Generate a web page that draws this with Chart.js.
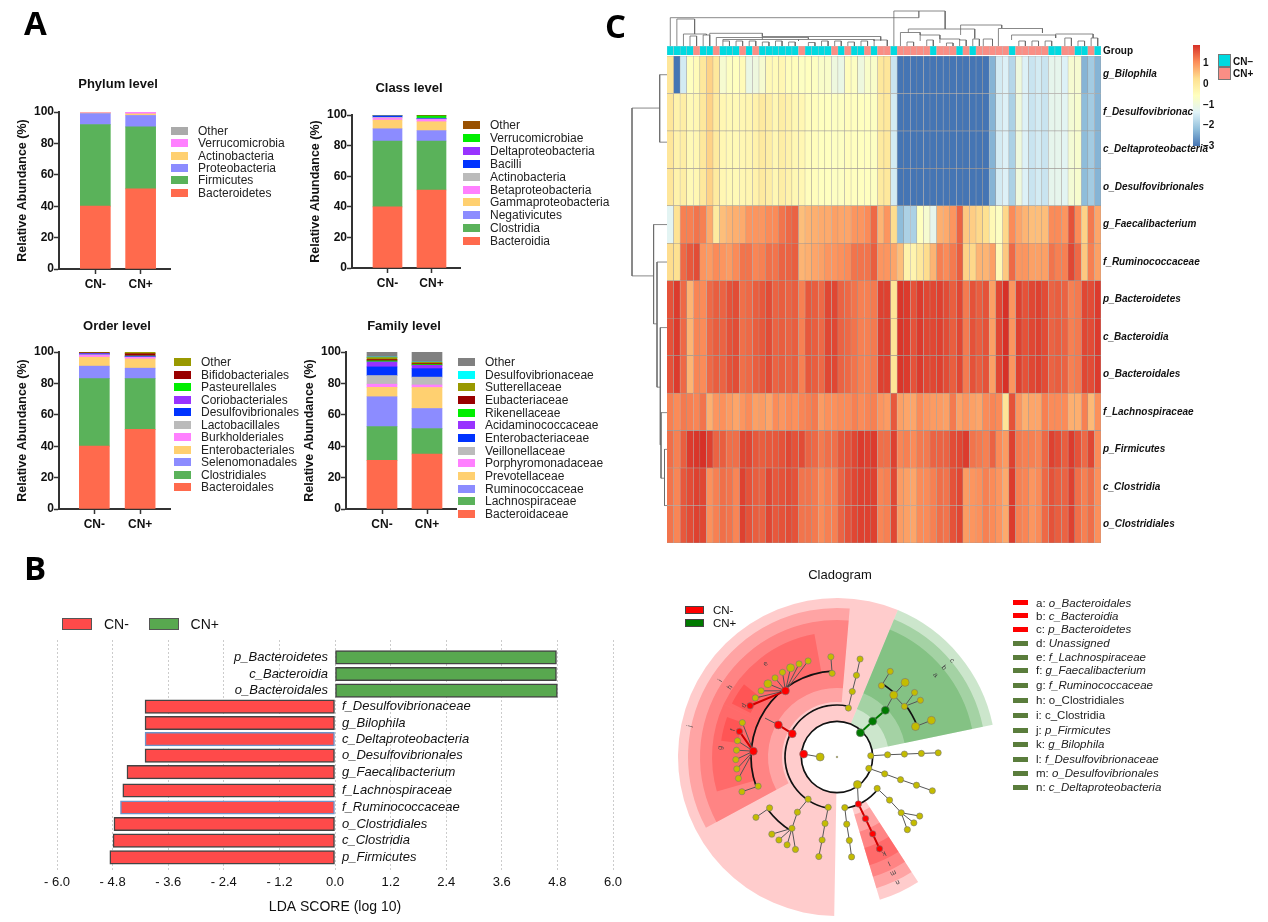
<!DOCTYPE html>
<html>
<head>
<meta charset="utf-8">
<title>Microbiota figure</title>
<script src="https://cdn.jsdelivr.net/npm/chart.js@4"></script>
<style>
  body { margin: 0; background: #fff; font-family: "Liberation Sans", Arial, sans-serif; }
  #page { position: relative; width: 1268px; height: 922px; overflow: hidden; filter: blur(0.35px); }
  #page canvas { position: absolute; }
  .txt { position: absolute; white-space: nowrap; transform: translateY(-50%); color: #111; }
  .sw { position: absolute; box-sizing: border-box; }
</style>
</head>
<body>
<div id="page"></div>
<script>
// ---- panel A data (bottom of the stack first) ----
const groups = ['CN-', 'CN+']

const phylumNames = ['Bacteroidetes', 'Firmicutes', 'Proteobacteria', 'Actinobacteria', 'Verrucomicrobia', 'Other']
const phylumCNneg = [40, 52, 7, 0.5, 0.3, 0.2]
const phylumCNpos = [51, 39.5, 7.3, 1, 1, 0.2]
const phylumColors = ['#FF6A4D', '#5AB25A', '#8C8CFF', '#FFD070', '#FF80FF', '#AAAAAA']

const classNames = ['Bacteroidia', 'Clostridia', 'Negativicutes', 'Gammaproteobacteria', 'Betaproteobacteria', 'Actinobacteria', 'Bacilli', 'Deltaproteobacteria', 'Verrucomicrobiae', 'Other']
const classCNneg = [40, 43, 8, 5.7, 1.3, 0.5, 0.7, 0.3, 0.2, 0.3]
const classCNpos = [51, 32, 6.8, 5.8, 1.5, 0.3, 0.3, 0.2, 1.5, 0.6]
const classColors = ['#FF6A4D', '#5AB25A', '#8C8CFF', '#FFD070', '#FF80FF', '#BBBBBB', '#0033FF', '#9933FF', '#00EE00', '#995000']

const orderNames = ['Bacteroidales', 'Clostridiales', 'Selenomonadales', 'Enterobacteriales', 'Burkholderiales', 'Lactobacillales', 'Desulfovibrionales', 'Coriobacteriales', 'Pasteurellales', 'Bifidobacteriales', 'Other']
const orderCNneg = [40, 43, 8, 5.7, 1.3, 0.3, 0.4, 0.4, 0.1, 0.3, 0.5]
const orderCNpos = [50.7, 32.3, 6.7, 5.9, 1, 0.2, 0.3, 0.3, 0.1, 1.4, 1.1]
const orderColors = ['#FF6A4D', '#5AB25A', '#8C8CFF', '#FFD070', '#FF80FF', '#BBBBBB', '#0033FF', '#9933FF', '#00EE00', '#990000', '#999900']

const familyNames = ['Bacteroidaceae', 'Lachnospiraceae', 'Ruminococcaceae', 'Prevotellaceae', 'Porphyromonadaceae', 'Veillonellaceae', 'Enterobacteriaceae', 'Acidaminococcaceae', 'Rikenellaceae', 'Eubacteriaceae', 'Sutterellaceae', 'Desulfovibrionaceae', 'Other']
const familyCNneg = [31, 21.5, 19, 6, 2, 5.5, 5.5, 3.2, 0.7, 0.8, 1.3, 0.3, 3.2]
const familyCNpos = [35, 16.2, 12.8, 13.4, 1.6, 5, 5.4, 2.1, 0.5, 0.6, 0.8, 0.2, 6.4]
const familyColors = ['#FF6A4D', '#5AB25A', '#8C8CFF', '#FFD070', '#FF80FF', '#BBBBBB', '#0033FF', '#9933FF', '#00EE00', '#990000', '#999900', '#00FFFF', '#808080']

// ---- panel B data ----
const ldaNames = ['p_Bacteroidetes', 'c_Bacteroidia', 'o_Bacteroidales', 'f_Desulfovibrionaceae', 'g_Bilophila', 'c_Deltaproteobacteria', 'o_Desulfovibrionales', 'g_Faecalibacterium', 'f_Lachnospiraceae', 'f_Ruminococcaceae', 'o_Clostridiales', 'c_Clostridia', 'p_Firmicutes']
const ldaScores = [4.78, 4.78, 4.8, -4.1, -4.1, -4.1, -4.1, -4.49, -4.58, -4.63, -4.77, -4.79, -4.86]
const ldaRows = [0, 1, 2, 2.96, 3.94, 4.91, 5.9, 6.89, 7.99, 9.01, 10, 11, 12]
const ldaTicks = [-6, -4.8, -3.6, -2.4, -1.2, 0, 1.2, 2.4, 3.6, 4.8, 6]

// ---- panel C data (z-score per sample) ----
const g_Bilophila = [
  0.1, -3, -1.5, -0.55, -0.45, 0.05, 0.4, 0.05, -0.8, -0.6,
  -0.55, -0.45, -1.1, -1, -0.8, -0.4, -0.45, -0.35, -0.5, -0.5,
  -0.6, -0.55, -0.6, -0.7, -0.7, -1, -1.1, -0.5, -0.6, -1,
  -0.7, -0.7, 0.05, 0.1, -1.6, -3, -3, -3, -3, -3,
  -3, -3, -3, -3, -3, -3, -3, -3, -3, -2.3,
  -1.5, -1.4, -1.8, -1, -1.4, -1.6, -1.5, -1.6, -1.2, -1.2,
  -1.4, -0.8, -0.8, -2.3, -2, -2.3]
const f_Desulfovibrionaceae = [
  0.1, -0.2, -0.1, -0.4, -0.35, 0.05, 0.4, 0, -0.35, -0.4,
  -0.4, -0.35, -0.3, -0.2, 0, -0.1, -0.35, -0.1, -0.2, -0.35,
  -0.35, -0.5, -0.5, -0.55, -0.55, -0.6, -0.6, -0.5, -0.55, -0.55,
  -0.55, -0.6, 0, 0.05, -1.5, -3, -3, -3, -3, -3,
  -3, -3, -3, -3, -3, -3, -3, -3, -3, -2.3,
  -1.5, -1.4, -1.9, -1, -1.4, -1.6, -1.5, -1.6, -1.2, -1.2,
  -1.3, -0.85, -0.75, -2.2, -2, -2.3]
const c_Deltaproteobacteria = f_Desulfovibrionaceae
const o_Desulfovibrionales = f_Desulfovibrionaceae
const g_Faecalibacterium = [
  -1.3, 0.2, 1.2, 1.2, 1.3, 1.2, 0.8, 0, 0.6, 0.7,
  0.75, 0.8, 1, 1, 1, 1.1, 1.1, 1.3, 1.4, 1.45,
  0.6, 0.7, 0.75, 0.8, 0.8, 0.9, 0.85, 0.85, 1, 1,
  1.1, 1.4, 0.7, 1, 0.3, -2.2, -1.9, -1.9, -0.55, -0.8,
  -1.2, 0.75, 0.8, 1, 1.45, 0.5, 0.45, 0.35, 0.25, -0.4,
  -0.6, 0.35, 1.1, 0.85, 0.7, 0.6, 0.6, 0.6, 1.1, 1.1,
  1, 1.6, 1.1, 0.4, 1.25, 0.85]
const f_Ruminococcaceae = [
  0.3, 0.25, 1.4, 1.55, 1.65, 1, 0.95, 1.1, 1, 0.95,
  1.1, 1.3, 1.3, 1.15, 1.2, 1.35, 1.3, 1.45, 1.45, 1.5,
  0.7, 0.75, 0.85, 0.9, 1, 1, 1.05, 1.1, 1.3, 1.3,
  1.3, 1.5, 1, 1, 0.85, 0.6, -0.2, -0.25, 0.05, 0.3,
  0.7, 1.2, 1.1, 1.25, 1.5, 0.4, 0.35, 0.7, 0.7, 0.9,
  -0.4, 0.5, 1.4, 1, 1, 0.9, 0.9, 0.9, 1.3, 1.2,
  1.2, 1.7, 1.4, 0.5, 1.2, 0.9]
const p_Bacteroidetes = [
  1.6, 1.8, 1.4, 0.7, 1.15, 1.1, 1.4, 1.5, 1.45, 1.6,
  1.65, 1.35, 1.4, 1.5, 1.55, 1.65, 1.45, 1.5, 1.45, 1.5,
  1.2, 1.55, 1.5, 1.4, 1.7, 1.7, 1.45, 1.4, 1.3, 1.2,
  1.2, 1.25, 1.75, 1.75, 0.15, 1.85, 1.8, 1.6, 1.8, 1.7,
  1.7, 1.75, 1.65, 1.5, 1.7, 1.25, 1.6, 1.5, 1.6, 0.9,
  1.7, 1.9, 1, 1.75, 1.6, 1.7, 1.75, 1.65, 1.45, 1.5,
  1.45, 1.2, 1.25, 1.7, 1.65, 1.8]
const c_Bacteroidia = p_Bacteroidetes
const o_Bacteroidales = p_Bacteroidetes
const f_Lachnospiraceae = [
  1.2, 1.1, 1.25, 1.2, 1.15, 1.3, 0.75, 1, 1.05, 0.95,
  0.85, 1, 1.1, 0.9, 0.95, 0.85, 1.1, 1, 1.1, 1.05,
  1.15, 1.2, 1.25, 0.95, 1.05, 1.05, 1.1, 1.1, 1.2, 1.1,
  1.15, 1.2, 1, 0.95, 1.55, 0.9, 0.85, 0.85, 1.1, 1,
  0.95, 0.95, 0.9, 1.25, 0.9, 1, 0.9, 0.85, 1.1, 1.15,
  1.1, 0.15, 1.6, 1, 0.75, 0.85, 0.85, 1.2, 1.1, 1.1,
  1.1, 0.75, 0.75, 1.2, 0.65, 1.05]
const p_Firmicutes = [
  1.35, 1.2, 1.5, 1.8, 1.85, 1.9, 1.75, 1.45, 1.5, 1.35,
  1.35, 1.7, 1.7, 1.55, 1.5, 1.55, 1.55, 1.6, 1.7, 1.6,
  1.65, 1.45, 1.4, 1.25, 1.35, 1.35, 1.55, 1.6, 1.7, 1.8,
  1.75, 1.8, 1.35, 1.35, 1.75, 1.15, 1.2, 1.1, 1.25, 1.25,
  1.45, 1.45, 1.45, 1.65, 1.7, 1.8, 1.3, 1.25, 1.2, 1.45,
  1.1, 0.95, 1.75, 1.25, 1.2, 1.2, 1.15, 1.4, 1.75, 1.65,
  1.5, 1.8, 1.6, 1.4, 1.7, 1.1]
const c_Clostridia = [
  1.3, 1.15, 1.55, 1.65, 1.75, 1.7, 1.05, 1.2, 1.35, 1.3,
  1.15, 1.75, 1.6, 1.5, 1.45, 1.7, 1.55, 1.6, 1.65, 1.6,
  1.3, 1.3, 1.25, 1.1, 1.2, 1.2, 1.45, 1.6, 1.7, 1.75,
  1.75, 1.75, 1.15, 1.2, 1.7, 0.95, 0.9, 0.85, 1.1, 1.1,
  1.2, 1.35, 1.3, 1.6, 1.7, 0.95, 1, 1.05, 1.2, 1.1,
  1, 0.8, 1.8, 1.2, 1.15, 1, 1.1, 1.4, 1.6, 1.5,
  1.45, 1.75, 1.35, 1.2, 1.35, 1.05]
const o_Clostridiales = c_Clostridia

const heatLabels = ['g_Bilophila', 'f_Desulfovibrionacea', 'c_Deltaproteobacteria', 'o_Desulfovibrionales', 'g_Faecalibacterium', 'f_Ruminococcaceae', 'p_Bacteroidetes', 'c_Bacteroidia', 'o_Bacteroidales', 'f_Lachnospiraceae', 'p_Firmicutes', 'c_Clostridia', 'o_Clostridiales']
const heatRows = [g_Bilophila, f_Desulfovibrionaceae, c_Deltaproteobacteria, o_Desulfovibrionales, g_Faecalibacterium, f_Ruminococcaceae, p_Bacteroidetes, c_Bacteroidia, o_Bacteroidales, f_Lachnospiraceae, p_Firmicutes, c_Clostridia, o_Clostridiales]
// 0 = CN-, 1 = CN+
const sampleGroup = [0,0,0,0,1,0,0,1,0,0, 0,1,0,1,0,0,0,0,0,0, 1,0,0,0,0,1,0,1,0,0, 1,0,1,1,0,1,1,1,1,1, 0,1,1,1,0,1,0,1,1,1, 1,1,0,1,1,1,1,1,0,0, 1,1,0,0,1,0]
const heatStops = ['#4575B4', '#91BFDB', '#E0F3F8', '#FFFFBF', '#FEE090', '#FC8D59', '#D73027']
const heatMin = -3
const heatMax = 1.9
const colorbarTicks = [1, 0, -1, -2, -3]

// dendrograms: [from, to, height, dropFrom, dropTo]
const sampleTree = [
  [34.5, 42.3, 35, 0, 17], [38.3, 38.3, 35, 28.3, 28.3], [0.5, 38.3, 28.3, 0, 28.3],
  [1.5, 4.2, 27, 0, 12], [2.5, 6, 12, 0, 11], [3.5, 4.5, 10, 0, 0], [5.5, 6.5, 11, 0, 0],
  [6.5, 14.5, 12.7, 11, 9.5], [7.5, 21.5, 8.5, 0, 7], [8.5, 20, 6.5, 5, 5], [20, 31.5, 6.5, 5, 5],
  [14.5, 32.5, 9.5, 6.5, 5.5],
  [8.5, 9.5, 5, 0, 0], [10.5, 11.5, 5, 0, 0], [12.5, 13.5, 5, 0, 0], [14.5, 15.5, 4, 0, 0], [16.5, 17.5, 5, 0, 0],
  [18.5, 19.5, 4, 0, 0], [21.5, 22.5, 3.5, 0, 0], [23.5, 24.5, 5, 0, 0], [25.5, 26.5, 5, 0, 0], [27.5, 28.5, 4, 0, 0],
  [29.5, 30.5, 5, 0, 0], [31.5, 33.5, 6, 0, 0],
  [36.7, 46.8, 17, 13.5, 7.5], [35.5, 38.5, 13.5, 0, 11], [38.5, 41.5, 11, 5, 7], [36.5, 37.5, 4, 0, 0], [39.5, 40.5, 6, 0, 0],
  [42.5, 43.5, 3, 0, 0], [41.5, 44.5, 7, 3, 6], [44.5, 45.5, 6, 0, 0], [46.5, 47.5, 7, 0, 0], [48.1, 49.5, 7, 0, 0],
  [44.65, 50.9, 21, 11, 18], [50.4, 57.1, 17.5, 0, 13], [52.4, 59.1, 11, 6, 8], [59.1, 64.8, 12, 8, 8],
  [53.5, 54.5, 5, 0, 0], [55.5, 56.5, 5, 0, 0], [57.5, 58.5, 5, 0, 0], [60.5, 61.5, 8, 0, 0], [62.5, 63.5, 5, 0, 0], [64.5, 65.5, 8, 0, 0]
]
const taxonTree = [
  [0.5, 2.3, 7.3, 0, 0], [1.39, 5.87, 35, 7.3, 13.4], [4.5, 7.15, 13.4, 0, 10],
  [5.5, 8.84, 10, 0, 6.7], [7.25, 10.38, 6.7, 0, 6], [9.52, 11.27, 6, 0, 2.5], [10.5, 12, 2.5, 0, 0]
]

// ---- cladogram data: angles in degrees clockwise from the top, radii and node offsets from the centre ----
const cladeNames = ['j', 'i', 'h', 'e', 'g', 'd', 'f', 'n', 'm', 'l', 'k', 'c', 'b', 'a']
const cladeInner = [36, 55, 69, 85, 85, 97, 100, 52, 60, 78, 95, 36, 52, 69]
const cladeOuter = [159, 149, 137, 125, 125, 118, 117, 149, 137, 125, 113, 159, 149, 138]
const cladeFrom = [181, 241.6, 241.6, 294.9, 254, 297, 278, 147, 147, 147, 147, 22.5, 22.5, 22.5]
const cladeTo = [382.5, 364.9, 364.9, 349.6, 294.9, 308, 290, 163.3, 163.3, 163.3, 163.3, 78.3, 78.3, 78.3]
const cladeFill = ['r', 'r', 'r', 'r', 'r', 'r', 'r', 'r', 'r', 'r', 'r', 'g', 'g', 'g']
// black arcs: radius, from, to
const arcRadius = [35.7, 52, 86, 87, 52, 86, 86]
const arcFrom = [0, 190, 250, 212, 128, 32, 53]
const arcTo = [360, 373, 357, 233, 172, 42, 68.6]

const yellowNodes = [[11.7,-50.3],[15.7,-67.3],[20,-84],[23.7,-100.7],[-5,-86],[-6.3,-103],[-84,-60.7],[-78,-68],[-63.7,-81.3],[-56,-87],[-39,-95.7],[-29.7,-98.7],
  [-97.3,-35.3],[-102.3,-16.7],[-103.3,-7],[-104,2.7],[-103,12.3],[-101.3,22],[-81,30],[-97.7,35.7],[-29.7,43.3],[-40.7,56.7],[-69.3,52.3],[-83.3,62],[-46.3,73.3],[-67,79.3],[-59.7,85.3],[-51.3,90.3],[-42.7,95],
  [-9,51.7],[-12.3,68.3],[-15.3,85.3],[-18.7,102.3],[8,52],[10,69],[12.7,85.7],[15,102.7],[32.7,11.7],[49,17.3],[65.3,23.3],[81.7,29],[98,34.7],[34.7,-1.3],[52,-2.3],[69.3,-3],[86.7,-3.7],[104,-4.3],
  [41.3,32.3],[54,44.3],[66,57.3],[85,60.7],[79,67.7],[72.3,74.7],[54.7,-88],[45.7,-73.3],[79.7,-66.3],[85.7,-58.3],[69.3,-52]]
const yellowLarge = [[-17.3,0],[-71,-75.3],[-47.7,-91.7],[21,28.3],[70,-76.7],[58.3,-63.7],[80.7,-31.3],[97,-37.7]]
const redLarge = [[-34.3,-3],[-46,-24],[-60.3,-33],[-53,-68],[-86,-6]]
const redSmall = [[-89.3,-52.7],[-100.3,-26.3],[22,48.3],[29.3,63.3],[36.7,79],[43.7,94.3]]
const greenNodes = [[24,-25],[36.7,-36.7],[49.7,-48]]
const centerNode = [[0,0]]

const thinLinks = [
  [[-34.3,-3],[-17.3,0]], [[11.7,-50.3],[15.7,-67.3],[20,-84],[23.7,-100.7]], [[-5,-86],[-6.3,-103]], [[-60.3,-33],[-74,-40]],
  [[-53,-68],[-84,-60.7]], [[-53,-68],[-78,-68]], [[-53,-68],[-71,-75.3]], [[-53,-68],[-63.7,-81.3]], [[-53,-68],[-56,-87]], [[-53,-68],[-47.7,-91.7]], [[-53,-68],[-39,-95.7]], [[-53,-68],[-29.7,-98.7]],
  [[-86,-6],[-97.3,-35.3]], [[-86,-6],[-102.3,-16.7]], [[-86,-6],[-103.3,-7]], [[-86,-6],[-104,2.7]], [[-86,-6],[-103,12.3]], [[-86,-6],[-101.3,22]], [[-81,30],[-97.7,35.7]],
  [[-29.7,43.3],[-40.7,56.7],[-46.3,73.3]], [[-46.3,73.3],[-67,79.3]], [[-46.3,73.3],[-59.7,85.3]], [[-46.3,73.3],[-51.3,90.3]], [[-46.3,73.3],[-42.7,95]], [[-69.3,52.3],[-83.3,62]],
  [[-9,51.7],[-12.3,68.3],[-15.3,85.3],[-18.7,102.3]], [[8,52],[10,69],[12.7,85.7],[15,102.7]], [[21,28.3],[22,48.3]],
  [[32.7,11.7],[49,17.3],[65.3,23.3],[81.7,29],[98,34.7]], [[34.7,-1.3],[52,-2.3],[69.3,-3],[86.7,-3.7],[104,-4.3]],
  [[41.3,32.3],[54,44.3],[66,57.3],[85,60.7]], [[66,57.3],[79,67.7]], [[66,57.3],[72.3,74.7]],
  [[49.7,-48],[58.3,-63.7],[70,-76.7]], [[45.7,-73.3],[54.7,-88]], [[58.3,-63.7],[69.3,-52],[79.7,-66.3]], [[69.3,-52],[85.7,-58.3]], [[80.7,-31.3],[97,-37.7]]
]
const redLinks = [[[-46,-24],[-60.3,-33]], [[-53,-68],[-89.3,-52.7]], [[-86,-6],[-100.3,-26.3]], [[22,48.3],[29.3,63.3],[36.7,79],[43.7,94.3]]]
const greenLinks = [[[24,-25],[36.7,-36.7],[49.7,-48]]]

const ringLetters = ['a', 'b', 'c', 'd', 'e', 'f', 'g', 'h', 'i', 'j', 'k', 'l', 'm', 'n']
const ringLetterPos = [[101.3,-84.3],[110,-91.7],[118.3,-99],[-95.7,-52.7],[-73.3,-95.7],[-107,-27.7],[-120,-9.3],[-110,-71.7],[-120,-78.3],[-151.7,-31.7],[48.3,99.3],[53.3,109.3],[57.7,119.3],[62.3,128.7]]
const cladeLabels = ['o_Bacteroidales', 'c_Bacteroidia', 'p_Bacteroidetes', 'Unassigned', 'f_Lachnospiraceae', 'g_Faecalibacterium', 'f_Ruminococcaceae', 'o_Clostridiales', 'c_Clostridia', 'p_Firmicutes', 'g_Bilophila', 'f_Desulfovibrionaceae', 'o_Desulfovibrionales', 'c_Deltaproteobacteria']
const cladeLegendY = [602.7, 615.7, 629, 643, 657, 670, 685, 700, 715, 730, 744, 759, 773, 787]

// ---- helpers ----
Chart.defaults.animation = false
Chart.defaults.responsive = false
Chart.defaults.font.family = '"Liberation Sans", Arial, sans-serif'
Chart.defaults.color = '#111'
Chart.defaults.plugins.legend.display = false
Chart.defaults.plugins.tooltip.enabled = false

const page = document.getElementById('page')

function addCanvas(left, top, width, height) {
  const c = document.createElement('canvas')
  c.width = width
  c.height = height
  c.style.left = left + 'px'
  c.style.top = top + 'px'
  page.appendChild(c)
  return c.getContext('2d')
}

function addText(text, x, y, css) {
  const d = document.createElement('div')
  d.className = 'txt'
  d.innerHTML = text
  d.style.cssText = `left:${x}px;top:${y}px;${css || ''}`
  page.appendChild(d)
  return d
}

function addSwatch(x, y, w, h, color, border) {
  const d = document.createElement('div')
  d.className = 'sw'
  d.style.cssText = `left:${x}px;top:${y - h / 2}px;width:${w}px;height:${h}px;background:${color};${border ? 'border:1px solid ' + border : ''}`
  page.appendChild(d)
}

// ---- stacked bars of panel A ----
function stackedPanel(p) {
  const axisW = 48
  const ctx = addCanvas(p.axis - axisW, p.top - 10, p.right - p.axis + axisW + 6, p.bottom - p.top + 10 + 28)
  const pxPerGroup = p.centers[1] - p.centers[0]
  new Chart(ctx, {
    type: 'bar',
    data: {
      datasets: p.names.map((name, i) => ({
        label: name,
        data: [{ x: 1, y: p.neg[i] }, { x: 2, y: p.pos[i] }],
        backgroundColor: p.colors[i],
        barThickness: p.barW
      }))
    },
    options: {
      layout: { padding: { top: 10, right: 6 } },
      scales: {
        x: {
          type: 'linear', stacked: true, offset: false,
          min: 1 - (p.centers[0] - p.axis) / pxPerGroup,
          max: 1 + (p.right - p.centers[0]) / pxPerGroup,
          afterBuildTicks: s => { s.ticks = [{ value: 1 }, { value: 2 }] },
          afterFit: s => { s.height = 28 },
          ticks: { callback: v => groups[v - 1], font: { weight: 'bold', size: 12 }, padding: 3, maxRotation: 0, autoSkip: false },
          grid: { offset: false, drawOnChartArea: false, tickColor: '#333', tickWidth: 1.5, tickLength: 5 },
          border: { color: '#333', width: 2 }
        },
        y: {
          stacked: true, min: 0, max: 100,
          afterFit: s => { s.width = axisW },
          title: { display: true, text: 'Relative Abundance (%)', font: { weight: 'bold', size: 12.5 }, padding: { top: 4, bottom: 0 } },
          ticks: { stepSize: 20, font: { weight: 'bold', size: 12 }, padding: 0 },
          grid: { drawOnChartArea: false, tickColor: '#333', tickWidth: 1.5, tickLength: 5 },
          border: { color: '#333', width: 2 }
        }
      }
    }
  })
  addText(p.title, p.titleX, p.titleY, 'font-weight:bold;font-size:13px;transform:translate(-50%,-50%)')
  const rev = p.names.map((_, i) => p.names.length - 1 - i)
  rev.forEach((idx, row) => {
    const y = p.legY + row * p.legStep
    addSwatch(p.legX, y, 17, 8, p.colors[idx])
    addText(p.names[idx], p.legX + 27, y, 'font-size:12px;color:#222')
  })
}

stackedPanel({ title: 'Phylum level', titleX: 118, titleY: 83, axis: 58.5, right: 170, top: 111.7, bottom: 269.5, centers: [95, 140.5], barW: 30,
  names: phylumNames, neg: phylumCNneg, pos: phylumCNpos, colors: phylumColors, legX: 171, legY: 131, legStep: 12.3 })
stackedPanel({ title: 'Class level', titleX: 409, titleY: 87, axis: 352, right: 460, top: 115, bottom: 268.7, centers: [387.5, 431.5], barW: 29,
  names: classNames, neg: classCNneg, pos: classCNpos, colors: classColors, legX: 463, legY: 125, legStep: 12.9 })
stackedPanel({ title: 'Order level', titleX: 117, titleY: 325, axis: 58.5, right: 170, top: 352.3, bottom: 510, centers: [94, 140], barW: 30,
  names: orderNames, neg: orderCNneg, pos: orderCNpos, colors: orderColors, legX: 174, legY: 362, legStep: 12.5 })
stackedPanel({ title: 'Family level', titleX: 404, titleY: 325, axis: 346, right: 456, top: 352.3, bottom: 510, centers: [382, 427], barW: 30,
  names: familyNames, neg: familyCNneg, pos: familyCNpos, colors: familyColors, legX: 458, legY: 362, legStep: 12.65 })

// ---- LDA bars of panel B ----
const ldaLabelPlugin = {
  id: 'ldaLabels',
  afterDatasetsDraw(chart) {
    const { ctx, scales: { x, y } } = chart
    ctx.save()
    ctx.font = 'italic 13px "Liberation Sans", Arial, sans-serif'
    ctx.fillStyle = '#111'
    ctx.textBaseline = 'middle'
    ldaNames.forEach((name, i) => {
      const up = ldaScores[i] > 0
      ctx.textAlign = up ? 'right' : 'left'
      ctx.fillText(name, x.getPixelForValue(0) + (up ? -7 : 7), y.getPixelForValue(ldaRows[i]))
    })
    ctx.restore()
  }
}
new Chart(addCanvas(17, 632, 636, 288), {
  type: 'bar',
  data: {
    datasets: [{
      label: 'LDA',
      data: ldaScores.map((v, i) => ({ x: v, y: ldaRows[i] })),
      backgroundColor: ldaScores.map(v => v > 0 ? '#58A84F' : '#FF4A4A'),
      borderColor: ldaNames.map((n, i) => (i === 5 || i === 9) ? '#6E93C8' : '#444'),
      borderWidth: 1.5,
      borderSkipped: false,
      barThickness: 13.5
    }]
  },
  options: {
    indexAxis: 'y',
    layout: { padding: { left: 40, right: 40, top: 8 } },
    scales: {
      x: {
        type: 'linear', min: -6, max: 6,
        afterBuildTicks: s => { s.ticks = ldaTicks.map(v => ({ value: v })) },
        afterFit: s => { s.height = 50 },
        ticks: { callback: v => (v < 0 ? '- ' : '') + Math.abs(v).toFixed(1), font: { size: 13 }, padding: 5, maxRotation: 0, autoSkip: false },
        title: { display: true, text: 'LDA SCORE (log 10)', font: { size: 14 }, padding: { top: 0, bottom: 4 } },
        grid: { color: '#CCCCCC', drawTicks: false },
        border: { display: false, dash: [2, 2] }
      },
      y: { type: 'linear', offset: false, reverse: true, min: -1.04, max: 12.76, display: false }
    }
  },
  plugins: [ldaLabelPlugin]
})
addSwatch(62, 623.5, 30, 12, '#FF4A4A', '#555')
addText('CN-', 104, 623.5, 'font-size:14px')
addSwatch(148.5, 623.5, 30, 12, '#58A84F', '#555')
addText('CN+', 190.6, 623.5, 'font-size:14px')

// ---- heatmap of panel C ----
function hexToRgb(h) {
  return [1, 3, 5].map(i => parseInt(h.slice(i, i + 2), 16))
}
function heatColor(v) {
  const t = Math.min(1, Math.max(0, (v - heatMin) / (heatMax - heatMin))) * (heatStops.length - 1)
  const i = Math.min(Math.floor(t), heatStops.length - 2)
  const a = hexToRgb(heatStops[i])
  const b = hexToRgb(heatStops[i + 1])
  const c = a.map((p, k) => Math.round(p + (b[k] - p) * (t - i)))
  return `rgb(${c[0]},${c[1]},${c[2]})`
}
const HEAT_LEFT = 667
const HEAT_W = 434
const sampleIdx = sampleGroup.map((_, j) => j)

new Chart(addCanvas(HEAT_LEFT, 56, HEAT_W + 130, 487), {
  type: 'bar',
  data: {
    labels: heatLabels,
    datasets: sampleIdx.map(j => ({
      data: heatRows.map(() => 1),
      backgroundColor: heatRows.map(r => heatColor(r[j])),
      borderColor: '#A09A96',
      borderWidth: 0.6,
      barPercentage: 1,
      categoryPercentage: 1
    }))
  },
  options: {
    indexAxis: 'y',
    scales: {
      x: { stacked: true, min: 0, max: sampleGroup.length, display: false },
      y: {
        stacked: true, position: 'right',
        afterFit: s => { s.width = 130; s.paddingTop = 0; s.paddingBottom = 0 },
        ticks: { font: { weight: 'bold', style: 'italic', size: 10 }, padding: 2, autoSkip: false },
        grid: { display: false, drawTicks: false },
        border: { display: false }
      }
    }
  }
})

new Chart(addCanvas(HEAT_LEFT, 46, HEAT_W, 9), {
  type: 'bar',
  data: {
    labels: sampleIdx,
    datasets: [{
      data: sampleGroup.map(() => 1),
      backgroundColor: sampleGroup.map(g => g ? '#FA8E85' : '#00DAE0'),
      borderColor: '#BDBDBD',
      borderWidth: 0.5,
      barPercentage: 1,
      categoryPercentage: 1
    }]
  },
  options: { scales: { x: { display: false }, y: { display: false, min: 0, max: 1 } } }
})
addText('Group', 1103, 50, 'font-weight:bold;font-size:10px')

function treeLine(tree) {
  const pts = []
  tree.forEach(([a, b, h, da, db]) => {
    pts.push({ a: a, h: da }, { a: a, h: h }, { a: b, h: h }, { a: b, h: db }, { a: null, h: null })
  })
  return pts
}

new Chart(addCanvas(HEAT_LEFT, 4, HEAT_W, 42), {
  type: 'scatter',
  data: { datasets: [{
    data: treeLine(sampleTree).map(p => ({ x: p.a, y: p.h })),
    showLine: true, spanGaps: false, pointRadius: 0, borderColor: '#6A6A6A', borderWidth: 0.8
  }] },
  options: { scales: { x: { min: 0, max: 66, display: false }, y: { min: 0, max: 42, display: false } } }
})

new Chart(addCanvas(627, 56, 40, 487), {
  type: 'scatter',
  data: { datasets: [{
    data: treeLine(taxonTree).map(p => ({ x: p.h, y: p.a })),
    showLine: true, spanGaps: false, pointRadius: 0, borderColor: '#6A6A6A', borderWidth: 0.8
  }] },
  options: { scales: { x: { min: 0, max: 40, reverse: true, display: false }, y: { min: 0, max: 13, reverse: true, display: false } } }
})

// colour bar, the white strip hides the end of the row label that runs under it
const colorbarCover = {
  id: 'colorbarCover',
  beforeDraw(chart) {
    chart.ctx.save()
    chart.ctx.fillStyle = '#fff'
    chart.ctx.fillRect(0, 68, chart.width, 20)
    chart.ctx.restore()
  }
}
new Chart(addCanvas(1193, 35, 40, 121), {
  type: 'bar',
  data: {
    labels: [''],
    datasets: [{
      data: [[heatMin, heatMax]],
      barPercentage: 1,
      categoryPercentage: 1,
      backgroundColor(c) {
        const area = c.chart.chartArea
        if (!area) return heatStops[0]
        const g = c.chart.ctx.createLinearGradient(0, area.bottom, 0, area.top)
        heatStops.forEach((s, i) => g.addColorStop(i / (heatStops.length - 1), s))
        return g
      }
    }]
  },
  options: {
    layout: { padding: { top: 10, bottom: 10 } },
    scales: {
      x: { display: false },
      y: {
        position: 'right', min: heatMin, max: heatMax,
        afterFit: s => { s.width = 33 },
        afterBuildTicks: s => { s.ticks = colorbarTicks.map(v => ({ value: v })) },
        ticks: { callback: v => String(v).replace('-', '\u2212'), font: { weight: 'bold', size: 10 }, padding: 3 },
        grid: { display: false, drawTicks: false },
        border: { display: false }
      }
    }
  },
  plugins: [colorbarCover]
})
addSwatch(1218, 60.5, 13, 13, '#00DAE0', '#777')
addSwatch(1218, 73, 13, 13, '#FA8E85', '#777')
addText('CN\u2212', 1233, 60.5, 'font-weight:bold;font-size:10px')
addText('CN+', 1233, 73, 'font-weight:bold;font-size:10px')

// ---- cladogram ----
const CX = 836.7
const CY = 756.7
const CLADE_BOX = 340

function ringChart(inner, outer, from, to, color) {
  const span = to - from
  new Chart(addCanvas(CX - CLADE_BOX / 2, CY - CLADE_BOX / 2, CLADE_BOX, CLADE_BOX), {
    type: 'doughnut',
    data: { datasets: [{ data: [span, 360 - span], backgroundColor: [color, 'rgba(0,0,0,0)'], borderWidth: 0 }] },
    options: { cutout: (inner / outer * 100) + '%', radius: outer, rotation: from }
  })
}

cladeNames.forEach((name, i) => {
  ringChart(cladeInner[i], cladeOuter[i], cladeFrom[i], cladeTo[i], cladeFill[i] === 'r' ? 'rgba(255,0,0,0.2)' : 'rgba(0,128,0,0.2)')
})
arcRadius.forEach((r, i) => {
  ringChart(r - 0.85, r + 0.85, arcFrom[i], arcTo[i], '#111')
})

function linkData(links) {
  const out = []
  links.forEach(line => {
    line.forEach(([x, y]) => out.push({ x, y }))
    out.push({ x: null, y: null })
  })
  return out
}
function nodeSet(points, color, radius) {
  return { data: points.map(([x, y]) => ({ x, y })), backgroundColor: color, borderColor: '#777', borderWidth: 0.6, pointRadius: radius }
}
function linkSet(links, color, width) {
  return { data: linkData(links), showLine: true, spanGaps: false, pointRadius: 0, borderColor: color, borderWidth: width }
}
const ringLetterPlugin = {
  id: 'ringLetters',
  afterDatasetsDraw(chart) {
    const { ctx, scales: { x, y } } = chart
    ctx.save()
    ctx.font = '7px "Liberation Sans", Arial, sans-serif'
    ctx.fillStyle = '#444'
    ctx.textAlign = 'center'
    ctx.textBaseline = 'middle'
    ringLetters.forEach((t, i) => {
      const [dx, dy] = ringLetterPos[i]
      ctx.save()
      ctx.translate(x.getPixelForValue(dx), y.getPixelForValue(dy))
      ctx.rotate(Math.atan2(dy, dx) + Math.PI / 2)
      ctx.fillText(t, 0, 0)
      ctx.restore()
    })
    ctx.restore()
  }
}
new Chart(addCanvas(CX - CLADE_BOX / 2, CY - CLADE_BOX / 2, CLADE_BOX, CLADE_BOX), {
  type: 'scatter',
  data: { datasets: [
    nodeSet(centerNode, '#C4BC00', 0.8),
    nodeSet(yellowLarge, '#C4BC00', 4),
    nodeSet(yellowNodes, '#C4BC00', 3.1),
    nodeSet(redLarge, '#FF0000', 4),
    nodeSet(redSmall, '#FF0000', 3.2),
    nodeSet(greenNodes, '#007A00', 4),
    linkSet(redLinks, '#D00000', 2),
    linkSet(greenLinks, '#007A00', 2),
    linkSet(thinLinks, '#555555', 1)
  ] },
  options: {
    scales: {
      x: { min: -CLADE_BOX / 2, max: CLADE_BOX / 2, display: false },
      y: { min: -CLADE_BOX / 2, max: CLADE_BOX / 2, reverse: true, display: false }
    }
  },
  plugins: [ringLetterPlugin]
})

addText('Cladogram', 840, 574, 'font-size:13px;transform:translate(-50%,-50%)')
addSwatch(685, 609.5, 19, 8, '#FF0000', '#444')
addText('CN-', 713, 609.5, 'font-size:11.5px')
addSwatch(685, 622.5, 19, 8, '#007A00', '#444')
addText('CN+', 713, 622.5, 'font-size:11.5px')

cladeLabels.forEach((name, i) => {
  const letter = ringLetters[i]
  const plain = name === 'o_Clostridiales' || name === 'c_Clostridia'
  addSwatch(1013, cladeLegendY[i], 15, 5, i < 3 ? '#FF0000' : '#5A7D3C')
  addText(`${letter}: ${plain ? name : '<i>' + name + '</i>'}`, 1036, cladeLegendY[i], 'font-size:11.5px;color:#222')
})

// panel letters
addText('A', 24, 22, 'font-family:"Open Sans",sans-serif;font-weight:700;font-size:33px;color:#000')
addText('B', 24, 567, 'font-family:"Open Sans",sans-serif;font-weight:700;font-size:33px;color:#000')
addText('C', 605, 25, 'font-family:"Open Sans",sans-serif;font-weight:700;font-size:33px;color:#000')
</script>
</body>
</html>
